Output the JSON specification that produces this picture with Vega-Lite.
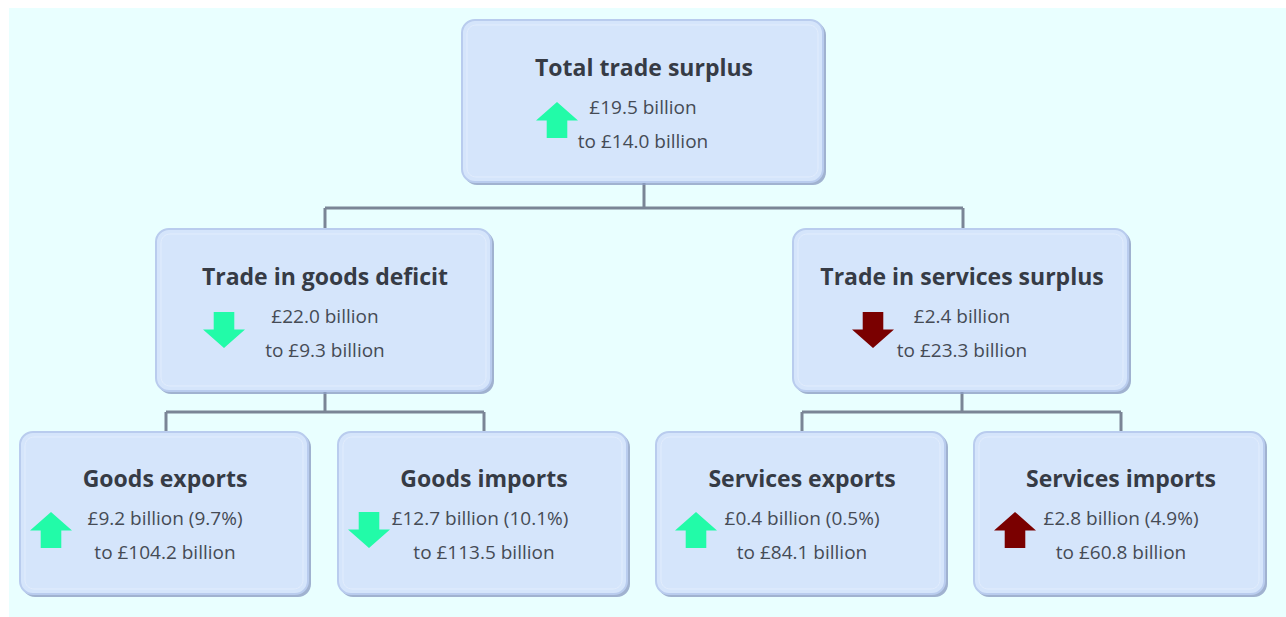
{
  "$schema": "https://vega.github.io/schema/vega-lite/v6.json",
  "width": 1286,
  "height": 617,
  "autosize": {"type": "fit", "contains": "padding"},
  "padding": 0,
  "background": "#ffffff",
  "config": {"view": {"stroke": null}},
  "datasets": {
    "bg": [{"x": 9, "y": 8, "x2": 1286, "y2": 617}],
    "boxes": [
      {"name": "Total", "x": 462, "y": 20, "x2": 823, "y2": 182},
      {"name": "Goods balance", "x": 156, "y": 229, "x2": 491, "y2": 391},
      {"name": "Services balance", "x": 793, "y": 229, "x2": 1128, "y2": 391},
      {"name": "Goods exports", "x": 20, "y": 432, "x2": 308, "y2": 594},
      {"name": "Goods imports", "x": 338, "y": 432, "x2": 627, "y2": 594},
      {"name": "Services exports", "x": 656, "y": 432, "x2": 945, "y2": 594},
      {"name": "Services imports", "x": 974, "y": 432, "x2": 1264, "y2": 594}
    ],
    "links": [
      {"x": 644, "y": 182, "x2": 644, "y2": 208},
      {"x": 325, "y": 208, "x2": 963, "y2": 208},
      {"x": 325, "y": 208, "x2": 325, "y2": 229},
      {"x": 963, "y": 208, "x2": 963, "y2": 229},
      {"x": 325, "y": 391, "x2": 325, "y2": 412},
      {"x": 166, "y": 412, "x2": 484, "y2": 412},
      {"x": 166, "y": 412, "x2": 166, "y2": 432},
      {"x": 484, "y": 412, "x2": 484, "y2": 432},
      {"x": 962, "y": 391, "x2": 962, "y2": 412},
      {"x": 802, "y": 412, "x2": 1121, "y2": 412},
      {"x": 802, "y": 412, "x2": 802, "y2": 432},
      {"x": 1121, "y": 412, "x2": 1121, "y2": 432}
    ],
    "arrows": [
      {"name": "Total", "x": 557, "y": 120, "dir": "up", "tone": "green"},
      {"name": "Goods balance", "x": 224, "y": 330, "dir": "down", "tone": "green"},
      {"name": "Services balance", "x": 873, "y": 330, "dir": "down", "tone": "red"},
      {"name": "Goods exports", "x": 51, "y": 530, "dir": "up", "tone": "green"},
      {"name": "Goods imports", "x": 369, "y": 530, "dir": "down", "tone": "green"},
      {"name": "Services exports", "x": 696, "y": 530, "dir": "up", "tone": "green"},
      {"name": "Services imports", "x": 1015, "y": 530, "dir": "up", "tone": "red"}
    ],
    "labels": [
      {"kind": "title", "x": 644, "y": 76, "text": "Total trade surplus"},
      {"kind": "body", "x": 643, "y": 114, "text": "£19.5 billion"},
      {"kind": "body", "x": 643, "y": 148, "text": "to £14.0 billion"},
      {"kind": "title", "x": 325, "y": 285, "text": "Trade in goods deficit"},
      {"kind": "body", "x": 325, "y": 323, "text": "£22.0 billion"},
      {"kind": "body", "x": 325, "y": 357, "text": "to £9.3 billion"},
      {"kind": "title", "x": 962, "y": 285, "text": "Trade in services surplus"},
      {"kind": "body", "x": 962, "y": 323, "text": "£2.4 billion"},
      {"kind": "body", "x": 962, "y": 357, "text": "to £23.3 billion"},
      {"kind": "title", "x": 165, "y": 487, "text": "Goods exports"},
      {"kind": "body", "x": 165, "y": 525, "text": "£9.2 billion (9.7%)"},
      {"kind": "body", "x": 165, "y": 559, "text": "to £104.2 billion"},
      {"kind": "title", "x": 484, "y": 487, "text": "Goods imports"},
      {"kind": "body", "x": 480, "y": 525, "text": "£12.7 billion (10.1%)"},
      {"kind": "body", "x": 484, "y": 559, "text": "to £113.5 billion"},
      {"kind": "title", "x": 802, "y": 487, "text": "Services exports"},
      {"kind": "body", "x": 802, "y": 525, "text": "£0.4 billion (0.5%)"},
      {"kind": "body", "x": 802, "y": 559, "text": "to £84.1 billion"},
      {"kind": "title", "x": 1121, "y": 487, "text": "Services imports"},
      {"kind": "body", "x": 1121, "y": 525, "text": "£2.8 billion (4.9%)"},
      {"kind": "body", "x": 1121, "y": 559, "text": "to £60.8 billion"}
    ]
  },
  "resolve": {"scale": {"x": "shared", "y": "shared"}},
  "layer": [
    {
      "data": {"name": "bg"},
      "mark": {"type": "rect", "fill": "#e9ffff"},
      "encoding": {
        "x": {"field": "x", "type": "quantitative", "scale": {"domain": [0, 1286], "nice": false, "zero": false}, "axis": null},
        "x2": {"field": "x2"},
        "y": {"field": "y", "type": "quantitative", "scale": {"domain": [0, 617], "nice": false, "zero": false, "reverse": true}, "axis": null},
        "y2": {"field": "y2"}
      }
    },
    {
      "data": {"name": "links"},
      "mark": {"type": "rule", "stroke": "#7a8596", "strokeWidth": 3},
      "encoding": {
        "x": {"field": "x", "type": "quantitative"},
        "x2": {"field": "x2"},
        "y": {"field": "y", "type": "quantitative"},
        "y2": {"field": "y2"}
      }
    },
    {
      "data": {"name": "boxes"},
      "mark": {"type": "rect", "fill": "#8d9fc4", "cornerRadius": 13, "xOffset": 2, "x2Offset": 3, "yOffset": 2, "y2Offset": 3, "opacity": 0.8},
      "encoding": {
        "x": {"field": "x", "type": "quantitative"},
        "x2": {"field": "x2"},
        "y": {"field": "y", "type": "quantitative"},
        "y2": {"field": "y2"}
      }
    },
    {
      "data": {"name": "boxes"},
      "mark": {"type": "rect", "fill": "#d5e5fb", "stroke": "#b9ccee", "strokeWidth": 2, "cornerRadius": 13},
      "encoding": {
        "x": {"field": "x", "type": "quantitative"},
        "x2": {"field": "x2"},
        "y": {"field": "y", "type": "quantitative"},
        "y2": {"field": "y2"}
      }
    },
    {
      "data": {"name": "boxes"},
      "mark": {"type": "rect", "fill": null, "filled": false, "stroke": "#e2edfd", "strokeWidth": 1, "cornerRadius": 9, "xOffset": 5, "x2Offset": -5, "yOffset": 5, "y2Offset": -5},
      "encoding": {
        "x": {"field": "x", "type": "quantitative"},
        "x2": {"field": "x2"},
        "y": {"field": "y", "type": "quantitative"},
        "y2": {"field": "y2"}
      }
    },
    {
      "data": {"name": "arrows"},
      "mark": {"type": "point", "filled": true, "opacity": 1, "strokeWidth": 0, "size": 1764},
      "encoding": {
        "x": {"field": "x", "type": "quantitative"},
        "y": {"field": "y", "type": "quantitative"},
        "shape": {"field": "dir", "type": "nominal", "legend": null, "scale": {"domain": ["up", "down"], "range": ["M0,-0.86L1,0.02L0.49,0.02L0.49,0.86L-0.49,0.86L-0.49,0.02L-1,0.02Z", "M0,0.86L1,-0.02L0.49,-0.02L0.49,-0.86L-0.49,-0.86L-0.49,-0.02L-1,-0.02Z"]}},
        "color": {"field": "tone", "type": "nominal", "legend": null, "scale": {"domain": ["green", "red"], "range": ["#22fba8", "#7a0000"]}}
      }
    },
    {
      "data": {"name": "labels"},
      "transform": [{"filter": "datum.kind === 'title'"}],
      "mark": {"type": "text", "font": "Open Sans", "fontWeight": "bold", "fontSize": 23, "fill": "#363b45", "align": "center", "baseline": "alphabetic"},
      "encoding": {
        "x": {"field": "x", "type": "quantitative"},
        "y": {"field": "y", "type": "quantitative"},
        "text": {"field": "text"}
      }
    },
    {
      "data": {"name": "labels"},
      "transform": [{"filter": "datum.kind === 'body'"}],
      "mark": {"type": "text", "font": "Open Sans", "fontSize": 19, "fill": "#454b55", "align": "center", "baseline": "alphabetic"},
      "encoding": {
        "x": {"field": "x", "type": "quantitative"},
        "y": {"field": "y", "type": "quantitative"},
        "text": {"field": "text"}
      }
    }
  ]
}
